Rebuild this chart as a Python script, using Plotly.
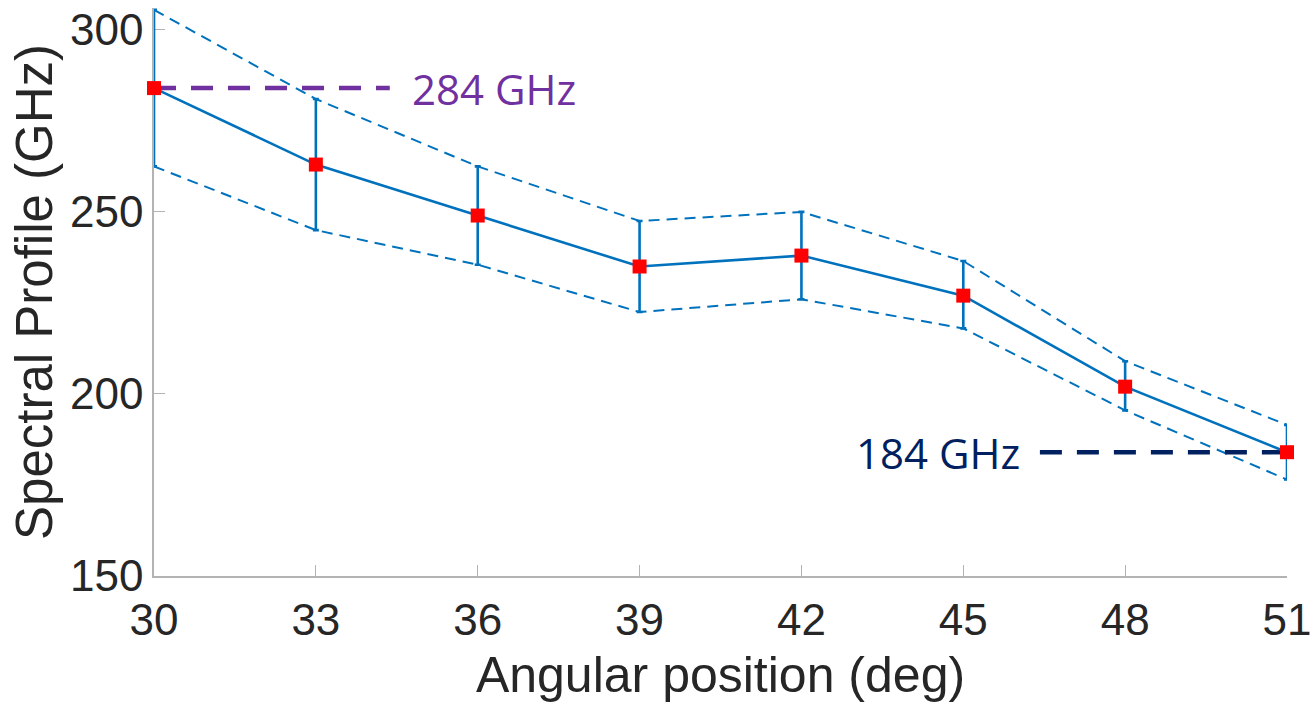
import plotly.graph_objects as go

angles = [30, 33, 36, 39, 42, 45, 48, 51]
profile = [284, 263, 249, 235, 238, 227, 202, 184]
upper = [305.5, 281, 262.5, 247.5, 250, 236.5, 209, 191.5]
lower = [262.5, 245, 235.5, 222.5, 226, 218, 195.5, 176.5]

err_plus = [u - p for u, p in zip(upper, profile)]
err_minus = [p - l for p, l in zip(profile, lower)]

x_ticks = [30, 33, 36, 39, 42, 45, 48, 51]
y_ticks = [150, 200, 250, 300]

blue = "#0072BD"
fig = go.Figure()

fig.add_trace(go.Scatter(x=angles, y=upper, mode="lines", cliponaxis=False,
                         line=dict(color=blue, width=2, dash="11px,7px"),
                         showlegend=False, hoverinfo="skip"))
fig.add_trace(go.Scatter(x=angles, y=lower, mode="lines", cliponaxis=False,
                         line=dict(color=blue, width=2, dash="11px,7px"),
                         showlegend=False, hoverinfo="skip"))

# annotation reference lines
fig.add_trace(go.Scatter(x=[30, 34.37], y=[284, 284], mode="lines", cliponaxis=False,
                         line=dict(color="#7030A0", width=4.5, dash="22px,15px"),
                         showlegend=False))
fig.add_trace(go.Scatter(x=[46.42, 51], y=[184, 184], mode="lines", cliponaxis=False,
                         line=dict(color="#002060", width=4.5, dash="22px,15px"),
                         showlegend=False))

fig.add_trace(go.Scatter(
    x=angles, y=profile, mode="lines+markers", cliponaxis=False,
    line=dict(color=blue, width=2.6),
    marker=dict(symbol="square", size=14, color="#FF0000"),
    error_y=dict(type="data", symmetric=False, array=err_plus, arrayminus=err_minus,
                 color=blue, thickness=2.6, width=3),
    showlegend=False))

fig.add_annotation(x=34.75, y=284, text="284 GHz", showarrow=False, xanchor="left",
                   yanchor="middle", font=dict(family="Open Sans", size=42, color="#7030A0"))
fig.add_annotation(x=46.09, y=184, text="184 GHz", showarrow=False, xanchor="right",
                   yanchor="middle", font=dict(family="Open Sans", size=42, color="#002060"))

axis_common = dict(showgrid=False, zeroline=False, showline=True, linecolor="#b3b3b3",
                   linewidth=1.5, ticks="inside", ticklen=11, tickcolor="#b3b3b3",
                   tickwidth=1.2, mirror=False, automargin=False, layer="below traces",
                   tickfont=dict(family="Liberation Sans, Arial", size=44, color="#262626"))

fig.update_xaxes(range=[30, 51], tickvals=x_ticks, ticklabelstandoff=4,
                 title=dict(text="Angular position (deg)", standoff=14,
                            font=dict(family="Liberation Sans, Arial", size=50, color="#262626")),
                 **axis_common)
fig.update_yaxes(range=[150, 306], tickvals=y_ticks,
                 title=dict(text="Spectral Profile (GHz)", standoff=1,
                            font=dict(family="Liberation Sans, Arial", size=51, color="#262626")),
                 **axis_common)

fig.update_layout(width=1314, height=705, plot_bgcolor="white", paper_bgcolor="white",
                  margin=dict(l=154, r=27, t=8, b=129))

fig.write_html("out.html")
